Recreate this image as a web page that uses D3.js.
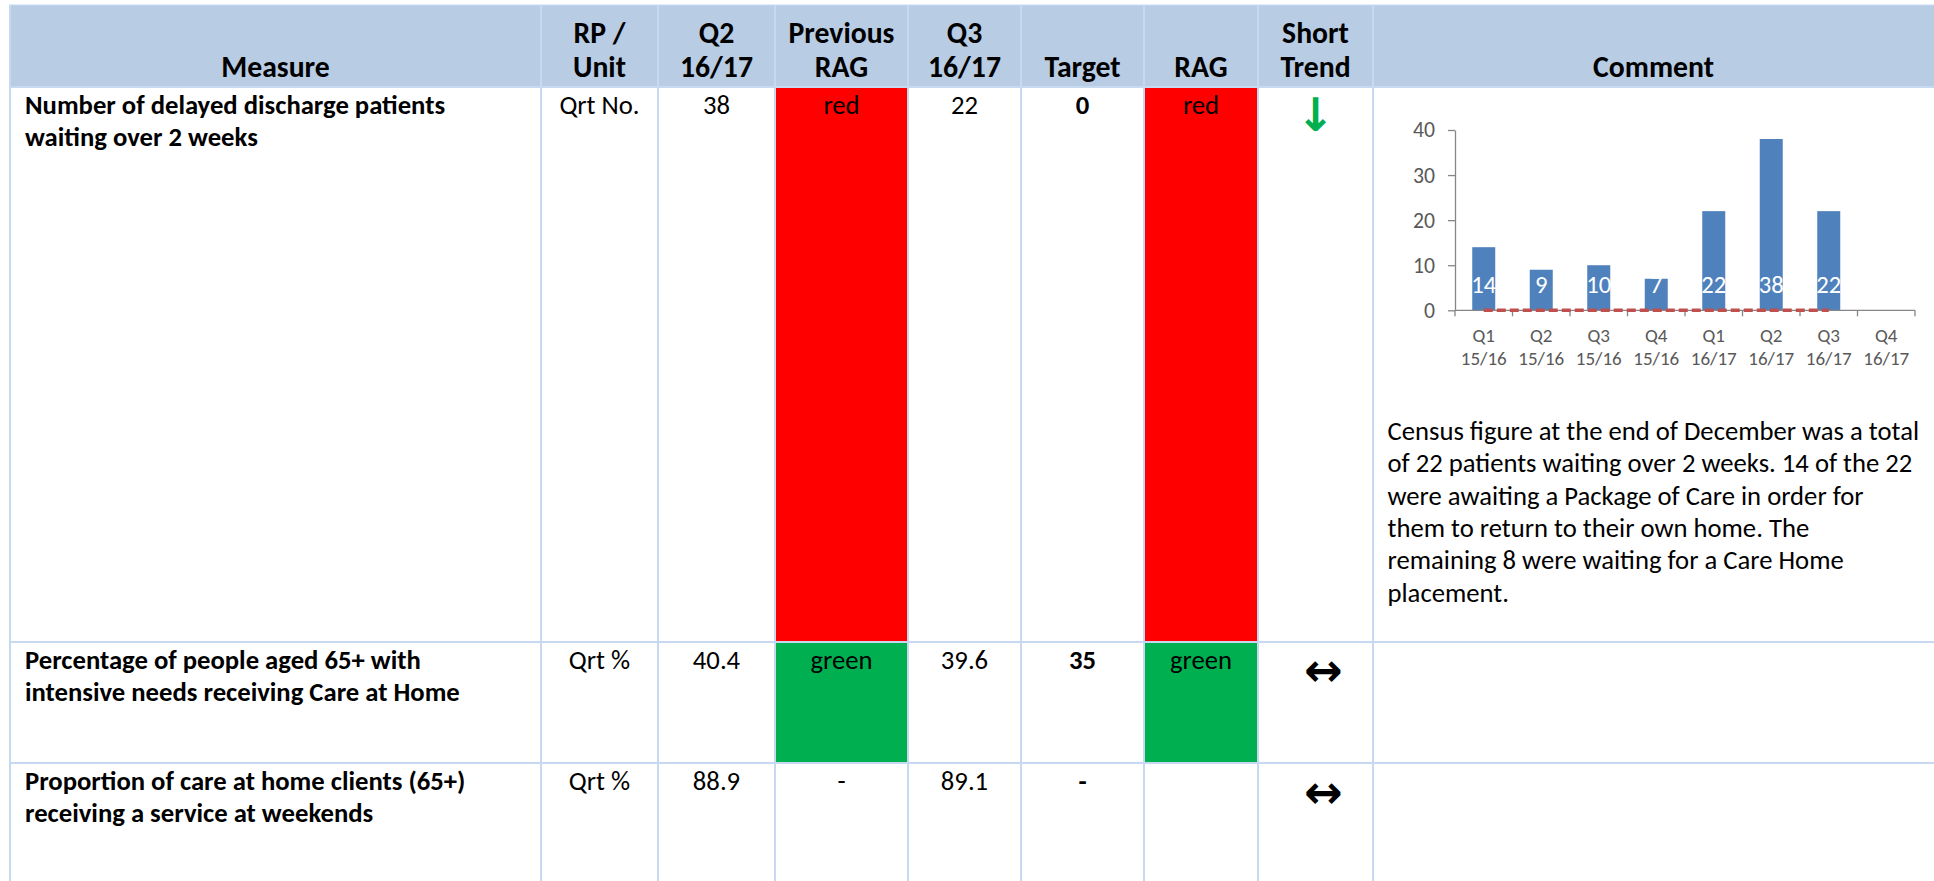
<!DOCTYPE html>
<html>
<head>
<meta charset="utf-8">
<script src="https://cdn.jsdelivr.net/npm/d3@7"></script>
<style>
  html, body { margin: 0; padding: 0; background: #fff; }
  svg { display: block; }
  text { font-family: Carlito, Lato, "Liberation Sans", sans-serif; }
</style>
</head>
<body>
<svg id="chart" width="1934" height="881"></svg>
<script>
// ---------------- data ----------------
const headerLine1 = ["", "RP /", "Q2", "Previous", "Q3", "", "", "Short", ""];
const headerLine2 = ["Measure", "Unit", "16/17", "RAG", "16/17", "Target", "RAG", "Trend", "Comment"];

const measures = [
  ["Number of delayed discharge patients", "waiting over 2 weeks"],
  ["Percentage of people aged 65+ with", "intensive needs receiving Care at Home"],
  ["Proportion of care at home clients (65+)", "receiving a service at weekends"]
];
const units = ["Qrt No.", "Qrt %", "Qrt %"];
const q2Values = ["38", "40.4", "88.9"];
const prevRag = ["red", "green", "-"];
const q3Values = ["22", "39.6", "89.1"];
const targets = ["0", "35", "-"];
const rag = ["red", "green", ""];
const trends = ["↓", "↔", "↔"];
const commentLines = [
  "Census figure at the end of December was a total",
  "of 22 patients waiting over 2 weeks. 14 of the 22",
  "were awaiting a Package of Care in order for",
  "them to return to their own home. The",
  "remaining 8 were waiting for a Care Home",
  "placement."
];

// mini chart
const chartCategories = [["Q1", "15/16"], ["Q2", "15/16"], ["Q3", "15/16"], ["Q4", "15/16"],
                         ["Q1", "16/17"], ["Q2", "16/17"], ["Q3", "16/17"], ["Q4", "16/17"]];
const chartValues = [14, 9, 10, 7, 22, 38, 22, null];
const chartTarget = [0, 0, 0, 0, 0, 0, 0, null];
const chartTicks = [0, 10, 20, 30, 40];

// ---------------- layout ----------------
const svg = d3.select("#chart");
const colX = [10, 541, 658, 775, 908, 1021, 1144, 1258, 1373, 1934];
const rowY = [5, 87, 642, 763, 890];
const headerFill = "#B8CCE4";
const gridColor = "#C6D9F0";
const ragColors = { red: "#FF0000", green: "#00B050" };

// measure helper to fit font size to a reference width
const probe = svg.append("text").attr("x", -1000).attr("y", -1000);
function fitSize(str, weight, targetW) {
  probe.attr("font-weight", weight).attr("font-size", 100).text(str);
  const w = probe.node().getComputedTextLength();
  return 100 * targetW / w;
}
const headerSize = fitSize("Previous", "bold", 106);
const bodySize = fitSize("intensive needs receiving Care at Home", "bold", 435);
const commentSize = fitSize(commentLines[0], "normal", 532);
const tickSize = fitSize("40", "normal", 22);
const catSize = fitSize("15/16", "normal", 46);
const labelSize = fitSize("14", "normal", 25);
probe.remove();

// header background
svg.append("rect").attr("x", colX[0]).attr("y", rowY[0])
  .attr("width", colX[colX.length - 1] - colX[0]).attr("height", rowY[1] - rowY[0])
  .attr("fill", headerFill);

// RAG fills
const nRows = measures.length;
d3.range(nRows).forEach(i => {
  [[3, prevRag[i]], [6, rag[i]]].forEach(([c, v]) => {
    if (ragColors[v]) {
      svg.append("rect").attr("x", colX[c]).attr("y", rowY[i + 1])
        .attr("width", colX[c + 1] - colX[c]).attr("height", rowY[i + 2] - rowY[i + 1])
        .attr("fill", ragColors[v]);
    }
  });
});

// grid lines
const grid = svg.append("g").attr("stroke", gridColor).attr("stroke-width", 2);
colX.slice(0, -1).forEach(x => {
  grid.append("line").attr("x1", x).attr("x2", x).attr("y1", rowY[0]).attr("y2", 881);
});
rowY.slice(1, -1).forEach(y => {
  grid.append("line").attr("x1", colX[0] - 1).attr("x2", 1934).attr("y1", y).attr("y2", y);
});
grid.append("line").attr("x1", colX[0] - 1).attr("x2", 1934).attr("y1", rowY[0]).attr("y2", rowY[0])
  .attr("stroke-width", 1);

// header texts
const colCenter = c => (colX[c] + colX[c + 1]) / 2;
const head = svg.append("g").attr("font-weight", "bold").attr("font-size", headerSize)
  .attr("text-anchor", "middle").attr("fill", "#000");
headerLine1.forEach((t, c) => {
  if (t) head.append("text").attr("x", colCenter(c)).attr("y", 43).text(t);
});
headerLine2.forEach((t, c) => {
  head.append("text").attr("x", colCenter(c)).attr("y", 77).text(t);
});

// body
const body = svg.append("g").attr("font-size", bodySize).attr("fill", "#000");
d3.range(nRows).forEach(i => {
  const base = rowY[i + 1] + 26.5;
  measures[i].forEach((line, k) => {
    body.append("text").attr("x", 25).attr("y", base + k * 32)
      .attr("font-weight", "bold").text(line);
  });
  const cells = [
    [1, units[i], "normal"], [2, q2Values[i], "normal"], [3, prevRag[i], "normal"],
    [4, q3Values[i], "normal"], [5, targets[i], "bold"], [6, rag[i], "normal"]
  ];
  cells.forEach(([c, v, w]) => {
    if (v) body.append("text").attr("x", colCenter(c)).attr("y", base)
      .attr("text-anchor", "middle").attr("font-weight", w).text(v);
  });
});

// trend arrows
const trendStyle = [
  { color: "#00B050", dx: 0, cy: 115, size: 46 },
  { color: "#000", dx: 8, cy: 670, size: 46 },
  { color: "#000", dx: 8, cy: 792, size: 46 }
];
trends.forEach((t, i) => {
  const s = trendStyle[i];
  svg.append("text").attr("x", colCenter(7) + s.dx).attr("y", s.cy)
    .attr("text-anchor", "middle").attr("dominant-baseline", "central")
    .style("font-family", "'DejaVu Sans', sans-serif").attr("font-weight", "bold")
    .attr("font-size", s.size).attr("fill", s.color).text(t);
});

// comment text
const cg = svg.append("g").attr("font-size", commentSize).attr("fill", "#000");
commentLines.forEach((l, k) => {
  cg.append("text").attr("x", 1387.5).attr("y", 440 + k * 32.3).text(l);
});

// ---------------- mini bar chart ----------------
const plot = { left: 1455, right: 1915, top: 130, bottom: 310.3 };
const x = d3.scaleBand().domain(d3.range(chartCategories.length))
  .range([plot.left, plot.right]).padding(0);
const y = d3.scaleLinear().domain([0, 40]).range([plot.bottom, plot.top]);
const ch = svg.append("g");

// bars
const barW = x.bandwidth() * 0.4;
ch.append("g").selectAll("rect")
  .data(chartValues.map((v, i) => ({ v, i })).filter(d => d.v != null))
  .join("rect")
  .attr("x", d => x(d.i) + (x.bandwidth() - barW) / 2)
  .attr("y", d => y(d.v))
  .attr("width", barW)
  .attr("height", d => y(0) - y(d.v))
  .attr("fill", "#4F81BD");

// y axis
const yAxis = ch.append("g").attr("transform", `translate(${plot.left},0)`)
  .call(d3.axisLeft(y).tickValues(chartTicks).tickSize(7).tickSizeOuter(0).tickPadding(13));
yAxis.select(".domain").attr("stroke", "#868686").attr("stroke-width", 1.3);
yAxis.selectAll(".tick line").attr("stroke", "#868686").attr("stroke-width", 1.3);
yAxis.selectAll(".tick text").attr("fill", "#595959").attr("font-size", tickSize);

// x axis line + boundary ticks
const xAxisG = ch.append("g");
xAxisG.append("line").attr("x1", plot.left).attr("x2", plot.right)
  .attr("y1", y(0)).attr("y2", y(0)).attr("stroke", "#868686").attr("stroke-width", 1.3);
d3.range(chartCategories.length + 1).forEach(k => {
  const bx = plot.left + k * x.step();
  xAxisG.append("line").attr("x1", bx).attr("x2", bx)
    .attr("y1", y(0)).attr("y2", y(0) + 6).attr("stroke", "#868686").attr("stroke-width", 1.3);
});
const catLab = xAxisG.append("g").attr("fill", "#595959").attr("font-size", catSize)
  .attr("text-anchor", "middle");
chartCategories.forEach((c, i) => {
  const t = catLab.append("text").attr("x", x(i) + x.bandwidth() / 2);
  t.append("tspan").attr("x", x(i) + x.bandwidth() / 2).attr("y", 342).text(c[0]);
  t.append("tspan").attr("x", x(i) + x.bandwidth() / 2).attr("y", 365).text(c[1]);
});

// target line (dashed)
const tgt = chartTarget.map((v, i) => ({ v, i })).filter(d => d.v != null);
ch.append("path").datum(tgt)
  .attr("d", d3.line().x(d => x(d.i) + x.bandwidth() / 2).y(d => y(d.v)))
  .attr("fill", "none").attr("stroke", "#C0504D").attr("stroke-width", 3.5)
  .attr("stroke-dasharray", "9,4");

// data labels (inside base)
ch.append("g").attr("fill", "#fff").attr("font-size", labelSize).attr("text-anchor", "middle")
  .selectAll("text")
  .data(chartValues.map((v, i) => ({ v, i })).filter(d => d.v != null))
  .join("text")
  .attr("x", d => x(d.i) + x.bandwidth() / 2)
  .attr("y", y(0) - 25.5)
  .attr("dominant-baseline", "central")
  .text(d => d.v);
</script>
</body>
</html>
